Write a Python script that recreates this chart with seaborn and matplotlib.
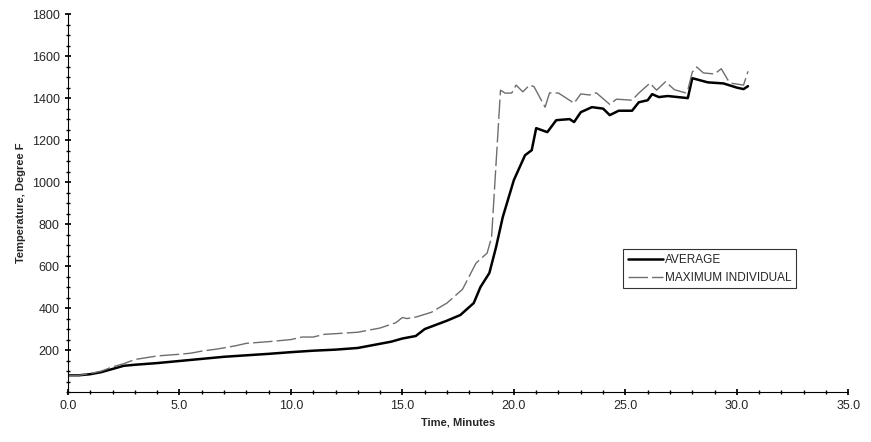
import matplotlib
matplotlib.use("Agg")
import matplotlib.pyplot as plt
import seaborn as sns
import pandas as pd
from matplotlib.ticker import MultipleLocator

avg_time = [0, 0.5, 1, 1.5, 2, 2.5, 3, 4, 5, 6, 7, 8, 9, 10, 11, 12, 13, 14, 14.5, 15, 15.6, 16, 17, 17.6,
            18.2, 18.5, 18.9, 19.2, 19.5, 20.0, 20.5, 20.8, 21.0, 21.5, 21.9, 22.5, 22.7, 23.0, 23.5, 24.0,
            24.3, 24.7, 25.3, 25.6, 26.0, 26.2, 26.5, 26.9, 27.8, 28.0, 28.7, 29.4, 30.0, 30.3, 30.5]
avg_temp = [80, 80, 85, 95, 110, 125, 130, 138, 148, 158, 168, 175, 182, 190, 197, 202, 210, 230, 240, 255,
            267, 300, 340, 367, 424, 500, 567, 690, 833, 1010, 1128, 1152, 1257, 1238, 1295, 1300, 1286, 1333,
            1357, 1350, 1319, 1340, 1340, 1380, 1390, 1419, 1405, 1410, 1400, 1495, 1475, 1470, 1450, 1443, 1457]

max_time = [0, 0.5, 1, 1.5, 2, 2.5, 3, 4, 5, 5.5, 6, 6.7, 7.5, 8, 9, 10, 10.5, 11, 11.5, 12, 13, 13.5, 14,
            14.7, 15.0, 15.2, 15.6, 16.3, 17.0, 17.7, 18.3, 18.8, 19.0, 19.4, 19.6, 19.9, 20.1, 20.4, 20.7,
            20.9, 21.4, 21.6, 22.0, 22.7, 23.0, 23.4, 23.7, 24.3, 24.6, 25.3, 25.6, 26.1, 26.4, 26.8, 27.2,
            27.7, 27.8, 28.0, 28.2, 28.5, 29.0, 29.3, 29.6, 29.8, 30.3, 30.5]
max_temp = [80, 80, 88, 100, 120, 135, 155, 172, 180, 185, 195, 205, 220, 232, 240, 250, 262, 262, 275, 278,
            285, 295, 305, 330, 355, 350, 357, 380, 424, 490, 614, 662, 738, 1438, 1424, 1424, 1462, 1430, 1462,
            1455, 1357, 1425, 1424, 1376, 1420, 1415, 1425, 1370, 1395, 1390, 1424, 1471, 1438, 1478, 1440,
            1425, 1438, 1524, 1548, 1520, 1515, 1540, 1486, 1470, 1462, 1528]

sns.set_theme(style="white")
plt.rcParams["font.family"] = ["Liberation Sans", "DejaVu Sans"]

fig = plt.figure(figsize=(8.71, 4.42), dpi=100)
ax = fig.add_axes([0.078, 0.113, 0.896, 0.855])

sns.lineplot(data=pd.DataFrame({"t": avg_time, "T": avg_temp}), x="t", y="T", ax=ax,
             color="black", lw=1.8, label="AVERAGE")
sns.lineplot(data=pd.DataFrame({"t": max_time, "T": max_temp}), x="t", y="T", ax=ax,
             color="#6e6e6e", lw=1, label="MAXIMUM INDIVIDUAL", dashes=False)
ax.lines[1].set_dashes([14, 3])

ax.set_xlim(0, 35)
ax.set_ylim(0, 1800)
ax.xaxis.set_major_locator(MultipleLocator(5))
ax.xaxis.set_minor_locator(MultipleLocator(1))
ax.yaxis.set_major_locator(MultipleLocator(200))
ax.yaxis.set_minor_locator(MultipleLocator(50))
ax.set_xticklabels([f"{v:.1f}" for v in ax.get_xticks()])
ax.set_yticks([200, 400, 600, 800, 1000, 1200, 1400, 1600, 1800])
ax.tick_params(which="both", direction="inout", bottom=True, left=True, labelsize=9, color="black")
ax.tick_params(which="major", length=5)
ax.tick_params(which="minor", length=3)
for s in ["top", "right"]:
    ax.spines[s].set_visible(False)
for s in ["left", "bottom"]:
    ax.spines[s].set_color("black")
    ax.spines[s].set_linewidth(0.8)

ax.set_xlabel("Time, Minutes", fontsize=8, fontweight="bold")
ax.set_ylabel("Temperature, Degree F", fontsize=8, fontweight="bold")

leg = ax.legend(loc="upper left", bbox_to_anchor=(0.704, 0.394), fontsize=8.5, frameon=True,
                fancybox=False, edgecolor="black", borderpad=0.4, handlelength=3.0, handletextpad=0.1,
                labelspacing=0.5)
leg.get_frame().set_linewidth(0.8)

fig.savefig("out.png", dpi=100)
